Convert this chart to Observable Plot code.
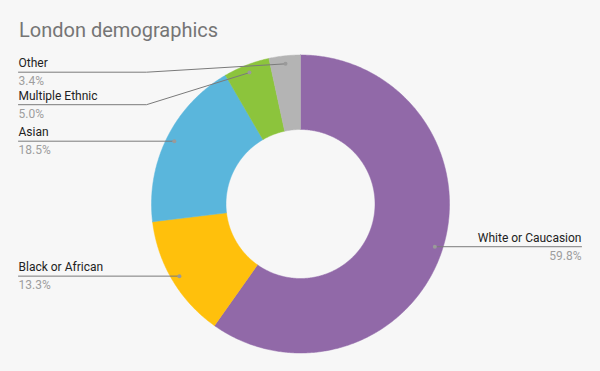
<!DOCTYPE html>
<html><head><meta charset="utf-8">
<script src="https://cdn.jsdelivr.net/npm/d3@7"></script>
<script src="https://cdn.jsdelivr.net/npm/@observablehq/plot@0.6"></script>
<style>
html,body{margin:0;padding:0;background:#f7f7f7;}
#title{height:45px;box-sizing:border-box;padding:20px 0 0 19px;font-family:Roboto,sans-serif;font-size:20px;line-height:20px;color:#757575;}
#chart svg{display:block;background:#f7f7f7;}
</style></head><body>
<div id="title">London demographics</div>
<div id="chart"></div>
<script>
const categories = ["White or Caucasion", "Black or African", "Asian", "Multiple Ethnic", "Other"];
const values = [59.8, 13.3, 18.5, 5.0, 3.4];
const colors = ["#9169a8", "#ffc00c", "#5ab6dc", "#8cc43c", "#b4b4b4"];

// layout constants (unit = outer radius)
const W = 600, H = 326, PX = 149, CX = 300, CY = 158.5;
const INNER = 0.5, DOT_R = 0.946;
const LEFT_END = (18 - CX) / PX, RIGHT_END = (581 - CX) / PX, ELBOW = (146 - CX) / PX;
const TOP_LIMIT = (CY - 26.7) / PX, SPACING = 32.5 / PX;

const total = d3.sum(values);
const slices = [];
const leaders = [];
const dots = [];
const labels = [];
let cum = 0;
categories.forEach((name, i) => {
  const a0 = cum / total * 2 * Math.PI;
  cum += values[i];
  const a1 = cum / total * 2 * Math.PI;
  const n = Math.max(4, Math.ceil((a1 - a0) / (Math.PI / 360)));
  const pts = [];
  for (let k = 0; k <= n; k++) { const a = a0 + (a1 - a0) * k / n; pts.push({name, x: Math.sin(a), y: Math.cos(a)}); }
  for (let k = n; k >= 0; k--) { const a = a0 + (a1 - a0) * k / n; pts.push({name, x: INNER * Math.sin(a), y: INNER * Math.cos(a)}); }
  pts.push(pts[0]);
  slices.push(...pts);
  const m = (a0 + a1) / 2;
  const dx = DOT_R * Math.sin(m), dy = DOT_R * Math.cos(m);
  dots.push({name, x: dx, y: dy, side: dx >= 0 ? "right" : "left", value: values[i]});
});
// label layout per side
for (const side of ["left", "right"]) {
  const items = dots.filter(d => d.side === side).sort((a, b) => b.y - a.y);
  let prev = Infinity;
  for (const d of items) {
    let ly = Math.min(d.y, TOP_LIMIT, prev - SPACING);
    prev = ly;
    const end = side === "left" ? LEFT_END : RIGHT_END;
    labels.push({name: d.name, value: d.value, side, x: end, y: ly});
    leaders.push({name: d.name, x: d.x, y: d.y});
    if (Math.abs(ly - d.y) > 1 / PX) leaders.push({name: d.name, x: ELBOW, y: ly});
    leaders.push({name: d.name, x: end, y: ly});
  }
}
const left = labels.filter(d => d.side === "left");
const right = labels.filter(d => d.side === "right");
const font = {fontFamily: "Roboto, sans-serif", fontSize: 12};

const chart = Plot.plot({
  width: W, height: H, margin: 0,
  style: {background: "#f7f7f7"},
  x: {domain: [-CX / PX, (W - CX) / PX], axis: null},
  y: {domain: [-(H - CY) / PX, CY / PX], axis: null},
  color: {domain: categories, range: colors},
  marks: [
    Plot.line(slices, {x: "x", y: "y", z: "name", fill: "name", stroke: "name", strokeWidth: 0.5, curve: "linear"}),
    Plot.line(leaders, {x: "x", y: "y", z: "name", stroke: "#7a7a7a", strokeWidth: 1, curve: "linear"}),
    Plot.dot(dots, {x: "x", y: "y", r: 2, fill: "#9a9a9a", stroke: null}),
    Plot.text(left, {x: "x", y: "y", text: "name", textAnchor: "start", lineAnchor: "bottom", dy: -5, fill: "#222", ...font}),
    Plot.text(left, {x: "x", y: "y", text: d => d.value.toFixed(1) + "%", textAnchor: "start", lineAnchor: "bottom", dy: 13, fill: "#9e9e9e", ...font}),
    Plot.text(right, {x: "x", y: "y", text: "name", textAnchor: "end", lineAnchor: "bottom", dy: -5, fill: "#222", ...font}),
    Plot.text(right, {x: "x", y: "y", text: d => d.value.toFixed(1) + "%", textAnchor: "end", lineAnchor: "bottom", dy: 13, fill: "#9e9e9e", ...font})
  ]
});
document.getElementById("chart").appendChild(chart);
</script>
</body></html>
